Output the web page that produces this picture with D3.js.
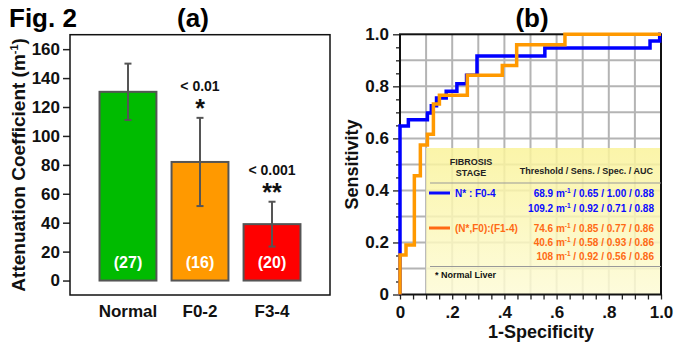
<!DOCTYPE html>
<html>
<head>
<meta charset="utf-8">
<script src="https://cdn.jsdelivr.net/npm/d3@7"></script>
<style>
  body { margin: 0; background: #fff; }
  svg text { font-family: "Liberation Sans", Arial, sans-serif; font-weight: bold; }
</style>
</head>
<body>
<div id="chart"></div>
<script>
// ---------- panel (a) : bar chart data
var groups = ["Normal", "F0-2", "F3-4"];
var means = [130.5, 82, 39];
var sds = [19.5, 30.5, 15.5];
var counts = ["(27)", "(16)", "(20)"];
var pLabels = ["", "< 0.01", "< 0.001"];
var stars = ["", "*", "**"];
var barColors = ["#00bb00", "#ff9900", "#ff0000"];
var yTicksA = [0, 20, 40, 60, 80, 100, 120, 140, 160];

// ---------- panel (b) : ROC curves (1-specificity, sensitivity), step corners
var blueFpr  = [0, 0, 0.032, 0.105, 0.12, 0.14, 0.177, 0.218, 0.255, 0.295, 0.555, 0.958, 0.995, 1.0];
var blueSens = [0, 0.648, 0.672, 0.698, 0.725, 0.755, 0.781, 0.81, 0.843, 0.917, 0.947, 0.974, 1.0, 1.0];
var orangeFpr  = [0, 0, 0.023, 0.055, 0.078, 0.105, 0.128, 0.151, 0.258, 0.392, 0.447, 0.632, 1.0];
var orangeSens = [0, 0.152, 0.19, 0.456, 0.575, 0.616, 0.732, 0.766, 0.843, 0.88, 0.96, 1.0, 1.0];
var xTickLabelsB = ["0", ".2", ".4", ".6", ".8", "1.0"];
var yTickLabelsB = ["0", "0.2", "0.4", "0.6", "0.8", "1.0"];

// legend table
var stageNames = ["N* : F0-4", "(N*,F0):(F1-4)"];
var rowStage = [0, 0, 1, 1, 1];
var rowThreshold = ["68.9", "109.2", "74.6", "40.6", "108"];
var rowSens = [0.65, 0.92, 0.85, 0.58, 0.92];
var rowSpec = [1.00, 0.71, 0.77, 0.93, 0.56];
var rowAuc = [0.88, 0.88, 0.86, 0.86, 0.86];

var stageColors = ["#0a0aff", "#ff6a14"];
var curveColors = ["#0000ff", "#ff9900"];

var svg = d3.select("#chart").append("svg")
  .attr("width", 678)
  .attr("height", 349);

// titles
svg.append("text").attr("x", 9).attr("y", 27).attr("font-size", 26).text("Fig. 2");
svg.append("text").attr("x", 193).attr("y", 27).attr("font-size", 26)
  .attr("text-anchor", "middle").text("(a)");
svg.append("text").attr("x", 532).attr("y", 27).attr("font-size", 26)
  .attr("text-anchor", "middle").text("(b)");

// ================= panel (a) =================
var A = { left: 70, right: 330, top: 34.7, bottom: 295 };

var xA = d3.scaleBand()
  .domain(groups)
  .range([A.left, A.right])
  .paddingInner(0.21)
  .paddingOuter(0.41);

var yA = d3.scaleLinear()
  .domain([-10, 170])
  .range([A.bottom, A.top]);

var gA = svg.append("g");

// y axis
var axA = gA.append("g")
  .attr("transform", `translate(${A.left},0)`)
  .call(d3.axisLeft(yA).tickValues(yTicksA).tickSize(7).tickPadding(3));
axA.select(".domain").remove();
axA.selectAll("line").attr("stroke", "#222").attr("stroke-width", 1.5);
axA.selectAll("text").attr("font-size", 17).attr("fill", "#111")
  .attr("font-family", "Liberation Sans, Arial, sans-serif").attr("font-weight", "bold");

// bars
gA.selectAll("rect.bar")
  .data(groups)
  .enter()
  .append("rect")
  .attr("class", "bar")
  .attr("x", d => xA(d))
  .attr("width", xA.bandwidth())
  .attr("y", (d, i) => yA(means[i]))
  .attr("height", (d, i) => yA(0) - yA(means[i]))
  .attr("fill", (d, i) => barColors[i])
  .attr("stroke", "#555")
  .attr("stroke-width", 2);

// error bars
var cap = 3.5;
groups.forEach((g, i) => {
  var cx = xA(g) + xA.bandwidth() / 2;
  var hi = yA(means[i] + sds[i]);
  var lo = yA(means[i] - sds[i]);
  var eb = gA.append("g").attr("stroke", "#555").attr("stroke-width", 2);
  eb.append("line").attr("x1", cx).attr("x2", cx).attr("y1", hi).attr("y2", lo);
  eb.append("line").attr("x1", cx - cap).attr("x2", cx + cap).attr("y1", hi).attr("y2", hi);
  eb.append("line").attr("x1", cx - cap).attr("x2", cx + cap).attr("y1", lo).attr("y2", lo);

  // n inside bar
  gA.append("text")
    .attr("x", cx).attr("y", yA(0) - 13)
    .attr("text-anchor", "middle")
    .attr("font-size", 16)
    .attr("fill", "#fff")
    .text(counts[i]);

  // significance labels
  if (pLabels[i]) {
    gA.append("text")
      .attr("x", cx).attr("y", hi - 27)
      .attr("text-anchor", "middle")
      .attr("font-size", 14)
      .attr("fill", "#111")
      .text(pLabels[i]);
    gA.append("text")
      .attr("x", cx).attr("y", hi - 1)
      .attr("text-anchor", "middle")
      .attr("font-size", 25)
      .attr("fill", "#111")
      .text(stars[i]);
  }

  // category label
  gA.append("text")
    .attr("x", cx).attr("y", 317)
    .attr("text-anchor", "middle")
    .attr("font-size", 17)
    .attr("fill", "#111")
    .text(g);
});

// frame
gA.append("rect")
  .attr("x", A.left).attr("y", A.top)
  .attr("width", A.right - A.left).attr("height", A.bottom - A.top)
  .attr("fill", "none").attr("stroke", "#111").attr("stroke-width", 1.5);

// y title
var tA = gA.append("text")
  .attr("transform", `translate(25,${(A.top + A.bottom) / 2}) rotate(-90)`)
  .attr("text-anchor", "middle")
  .attr("font-size", 19)
  .attr("fill", "#111");
tA.append("tspan").text("Attenuation Coefficient (m");
tA.append("tspan").attr("font-size", 11).attr("dy", -7).text("-1");
tA.append("tspan").attr("dy", 7).text(")");

// ================= panel (b) =================
var B = { left: 400, right: 661, top: 34.3, bottom: 294.5 };

var xB = d3.scaleLinear().domain([0, 1]).range([B.left, B.right]);
var yB = d3.scaleLinear().domain([0, 1]).range([B.bottom, B.top]);

var gB = svg.append("g");

// grid every 0.1
var gridVals = d3.range(1, 10).map(i => i / 10);
gB.selectAll("line.gx").data(gridVals).enter().append("line")
  .attr("x1", d => xB(d)).attr("x2", d => xB(d))
  .attr("y1", B.top).attr("y2", B.bottom)
  .attr("stroke", "#b4b4b4").attr("stroke-width", 2);
gB.selectAll("line.gy").data(gridVals).enter().append("line")
  .attr("y1", d => yB(d)).attr("y2", d => yB(d))
  .attr("x1", B.left).attr("x2", B.right)
  .attr("stroke", "#b4b4b4").attr("stroke-width", 2);

// legend box (yellow)
var defs = svg.append("defs");
var grad = defs.append("linearGradient").attr("id", "yel")
  .attr("x1", 0).attr("y1", 0).attr("x2", 0).attr("y2", 1);
grad.append("stop").attr("offset", "0%").attr("stop-color", "#faf39a");
grad.append("stop").attr("offset", "100%").attr("stop-color", "#fdfbd6");

var boxTop = 0.563, boxLeft = 0.1;
gB.append("rect")
  .attr("x", xB(boxLeft)).attr("y", yB(boxTop))
  .attr("width", xB(1) - xB(boxLeft)).attr("height", yB(0) - yB(boxTop))
  .attr("fill", "url(#yel)").attr("opacity", 0.85);

// axes
var ticks20 = d3.range(21).map(i => i / 20);
var isMajor = v => Math.abs(v * 5 - Math.round(v * 5)) < 1e-6;

var axYB = gB.append("g")
  .attr("transform", `translate(${B.left},0)`)
  .call(d3.axisLeft(yB).tickValues(ticks20).tickSize(7).tickPadding(4)
    .tickFormat(v => isMajor(v) ? yTickLabelsB[Math.round(v * 5)] : ""));
axYB.select(".domain").remove();
axYB.selectAll(".tick line")
  .attr("x2", v => isMajor(v) ? -7 : -4)
  .attr("stroke", "#222").attr("stroke-width", 1.3);
axYB.selectAll("text").attr("font-size", 17).attr("fill", "#111")
  .attr("font-family", "Liberation Sans, Arial, sans-serif").attr("font-weight", "bold");

var axXB = gB.append("g")
  .attr("transform", `translate(0,${B.bottom})`)
  .call(d3.axisBottom(xB).tickValues(ticks20).tickSize(5).tickPadding(6)
    .tickFormat(v => isMajor(v) ? xTickLabelsB[Math.round(v * 5)] : ""));
axXB.select(".domain").remove();
axXB.selectAll(".tick line").attr("stroke", "#222").attr("stroke-width", 1.3);
axXB.selectAll("text").attr("font-size", 17).attr("fill", "#111")
  .attr("font-family", "Liberation Sans, Arial, sans-serif").attr("font-weight", "bold");

// frame
gB.append("rect")
  .attr("x", B.left).attr("y", B.top)
  .attr("width", B.right - B.left).attr("height", B.bottom - B.top)
  .attr("fill", "none").attr("stroke", "#111").attr("stroke-width", 2);

// axis titles
gB.append("text")
  .attr("x", 541).attr("y", 338)
  .attr("text-anchor", "middle").attr("font-size", 18).attr("fill", "#111")
  .text("1-Specificity");
gB.append("text")
  .attr("transform", `translate(358,${(B.top + B.bottom) / 2}) rotate(-90)`)
  .attr("text-anchor", "middle").attr("font-size", 18).attr("fill", "#111")
  .text("Sensitivity");

// legend contents
var lg = gB.append("g");
lg.append("text").attr("x", 471).attr("y", 165).attr("text-anchor", "middle")
  .attr("font-size", 9).attr("fill", "#222").text("FIBROSIS");
lg.append("text").attr("x", 471).attr("y", 176).attr("text-anchor", "middle")
  .attr("font-size", 9).attr("fill", "#222").text("STAGE");
lg.append("text").attr("x", 653).attr("y", 174).attr("text-anchor", "end")
  .attr("font-size", 9).attr("fill", "#222").text("Threshold / Sens. / Spec. / AUC");

lg.append("line").attr("x1", 430).attr("x2", 661).attr("y1", 183).attr("y2", 183)
  .attr("stroke", "#999").attr("stroke-width", 1);
lg.append("line").attr("x1", 430).attr("x2", 661).attr("y1", 266.5).attr("y2", 266.5)
  .attr("stroke", "#999").attr("stroke-width", 1);

var stageY = [197, 232];
stageNames.forEach((s, k) => {
  lg.append("line")
    .attr("x1", 429).attr("x2", 450)
    .attr("y1", stageY[k] - 4).attr("y2", stageY[k] - 4)
    .attr("stroke", stageColors[k]).attr("stroke-width", 3);
  lg.append("text")
    .attr("x", 455).attr("y", stageY[k])
    .attr("font-size", 10).attr("fill", stageColors[k])
    .text(s);
});

var rowY = [197, 211.5, 231.5, 245.5, 259.5];
var f2 = d3.format(".2f");
rowThreshold.forEach((t, i) => {
  var tx = lg.append("text")
    .attr("x", 654).attr("y", rowY[i])
    .attr("text-anchor", "end")
    .attr("font-size", 10)
    .attr("fill", stageColors[rowStage[i]]);
  tx.append("tspan").text(t + " m");
  tx.append("tspan").attr("font-size", 6.5).attr("dy", -4).text("-1");
  tx.append("tspan").attr("dy", 4)
    .text(" / " + f2(rowSens[i]) + " / " + f2(rowSpec[i]) + " / " + f2(rowAuc[i]));
});

lg.append("text").attr("x", 435).attr("y", 278)
  .attr("font-size", 9).attr("fill", "#111").text("* Normal Liver");

// ROC curves
var line = d3.line()
  .x(d => xB(d[0]))
  .y(d => yB(d[1]))
  .curve(d3.curveStepAfter);

gB.append("path")
  .datum(d3.zip(blueFpr, blueSens))
  .attr("d", line)
  .attr("fill", "none")
  .attr("stroke", curveColors[0])
  .attr("stroke-width", 3.5);

gB.append("path")
  .datum(d3.zip(orangeFpr, orangeSens))
  .attr("d", line)
  .attr("fill", "none")
  .attr("stroke", curveColors[1])
  .attr("stroke-width", 3.5);
</script>
</body>
</html>
